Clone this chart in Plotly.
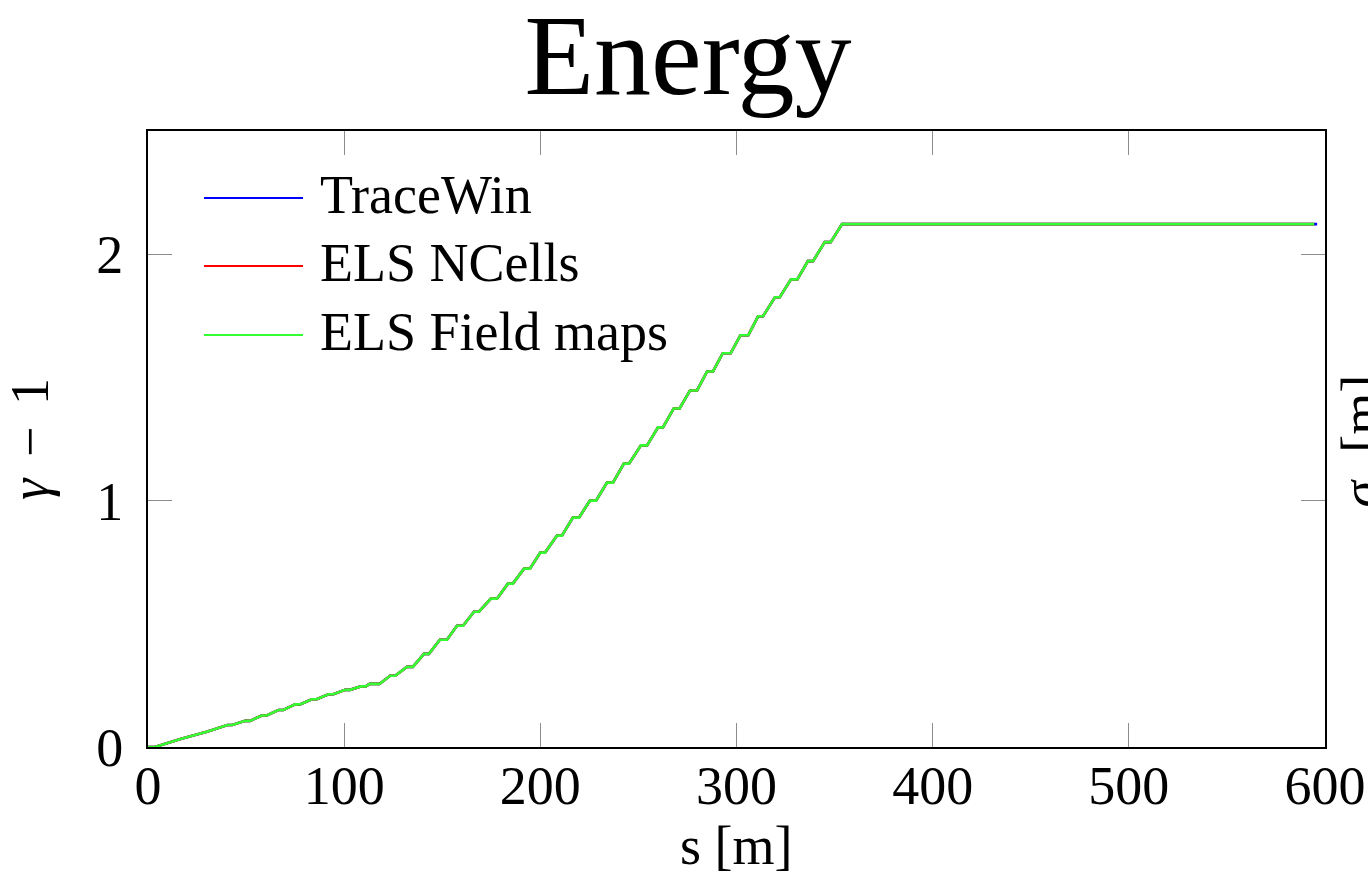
import plotly.graph_objects as go

# ---- data ----
s_m = [0, 3.5, 17, 30,
       40.5, 43, 49.5, 52, 58, 60.5, 66.5, 69, 75, 77.5, 83.5, 86, 92, 94.5,
       100.5, 103, 108.5, 111, 113, 118, 123.4, 126, 132, 135, 140.7, 143.2,
       148.8, 152.4, 157.5, 160.6, 166.2, 168.7, 174.8, 177.9, 183.5, 186,
       191.7, 194.7, 200, 202.4, 208.5, 211, 216.6, 219.7, 225.3, 228.4,
       234, 237, 242.6, 245.2, 251.3, 254.4, 260, 262.5, 268, 271,
       276.3, 279.9, 285, 288, 293, 297, 302, 306, 311, 313.5,
       319.6, 322, 327.8, 331, 336.4, 339, 345, 348, 353.8]
gamma_m1 = [0, 0, 0.033, 0.062,
            0.089, 0.089, 0.106, 0.106, 0.128, 0.128, 0.150, 0.150, 0.173, 0.173, 0.194, 0.194, 0.214, 0.214,
            0.232, 0.232, 0.246, 0.246, 0.256, 0.256, 0.289, 0.289, 0.325, 0.325, 0.378, 0.378,
            0.435, 0.435, 0.492, 0.492, 0.549, 0.549, 0.602, 0.602, 0.663, 0.663,
            0.724, 0.724, 0.789, 0.789, 0.858, 0.858, 0.931, 0.931, 1.000, 1.000,
            1.073, 1.073, 1.150, 1.150, 1.224, 1.224, 1.297, 1.297, 1.374, 1.374,
            1.447, 1.447, 1.524, 1.524, 1.598, 1.598, 1.671, 1.671, 1.748, 1.748,
            1.825, 1.825, 1.898, 1.898, 1.972, 1.972, 2.049, 2.049, 2.122]
s_end = {"TraceWin": 596.0, "ELS NCells": 594.5, "ELS Field maps": 594.5}
gamma_end = 2.122

series_names = ["TraceWin", "ELS NCells", "ELS Field maps"]
series_colors = ["rgb(0,0,255)", "rgb(255,0,0)", "rgb(51,255,51)"]

x_ticks = [0, 100, 200, 300, 400, 500, 600]
y_ticks = [0, 1, 2]

FONT = "Liberation Serif, Times New Roman, serif"
FS = 54
W, H = 1368, 894
L, R, T, B = 148, 1325, 131, 747

def px(x):
    return (x - L) / (R - L)

def py(y):
    return (B - y) / (B - T)

fig = go.Figure()
for name, col in zip(series_names, series_colors):
    fig.add_trace(go.Scatter(
        x=s_m + [s_end[name]], y=gamma_m1 + [gamma_end], mode="lines",
        name=name, line=dict(color=col, width=2.6), showlegend=False))

# manual legend (long line samples like the reference)
leg_y = [198, 266, 335]
shapes = []
annotations = []
for name, col, yy in zip(series_names, series_colors, leg_y):
    shapes.append(dict(type="line", xref="paper", yref="paper",
                       x0=px(204), x1=px(303), y0=py(yy), y1=py(yy),
                       line=dict(color=col, width=2.2)))
    annotations.append(dict(text=name, xref="paper", yref="paper",
                            x=px(318), y=py(yy - 3), xanchor="left", yanchor="middle",
                            showarrow=False, font=dict(family=FONT, size=FS, color="black")))

# x-axis title
annotations.append(dict(text="s [m]", xref="paper", yref="paper",
                        x=px(736), y=py(846), xanchor="center", yanchor="middle",
                        showarrow=False, font=dict(family=FONT, size=FS, color="black")))

# right-hand (cut off) secondary axis label
annotations.append(dict(text="<i>σ<sub>z</sub></i> [m]", xref="paper", yref="paper",
                        x=px(1328), y=py(441), xanchor="left", yanchor="middle",
                        textangle=-90, showarrow=False,
                        font=dict(family=FONT, size=FS, color="black")))

axis_common = dict(showgrid=False, zeroline=False, showline=True, linecolor="black",
                   linewidth=2, mirror="allticks", ticks="inside", ticklen=24,
                   tickcolor="rgb(140,140,140)", tickwidth=1, automargin=False,
                   ticklabeloverflow="allow",
                   tickfont=dict(family=FONT, size=FS, color="black"))

fig.update_layout(
    width=W, height=H,
    margin=dict(l=L, r=W - R, t=T, b=H - B),
    paper_bgcolor="white", plot_bgcolor="white",
    title=dict(text="Energy", x=688 / W, xanchor="center", xref="container",
               y=1 - 54 / H, yanchor="middle",
               font=dict(family=FONT, size=114, color="black")),
    xaxis=dict(range=[0, 600], tickvals=x_ticks, ticktext=[str(v) for v in x_ticks],
               ticklabelstandoff=-10, **axis_common),
    yaxis=dict(range=[0, 2.5], tickvals=y_ticks, ticktext=[str(v) for v in y_ticks],
               title=dict(text="<i>γ</i>\u2009\u2009−\u2009\u20091",
                          font=dict(family=FONT, size=FS, color="black"), standoff=32),
               ticklabelstandoff=12, **axis_common),
    shapes=shapes, annotations=annotations,
)

fig.write_html("out.html")
